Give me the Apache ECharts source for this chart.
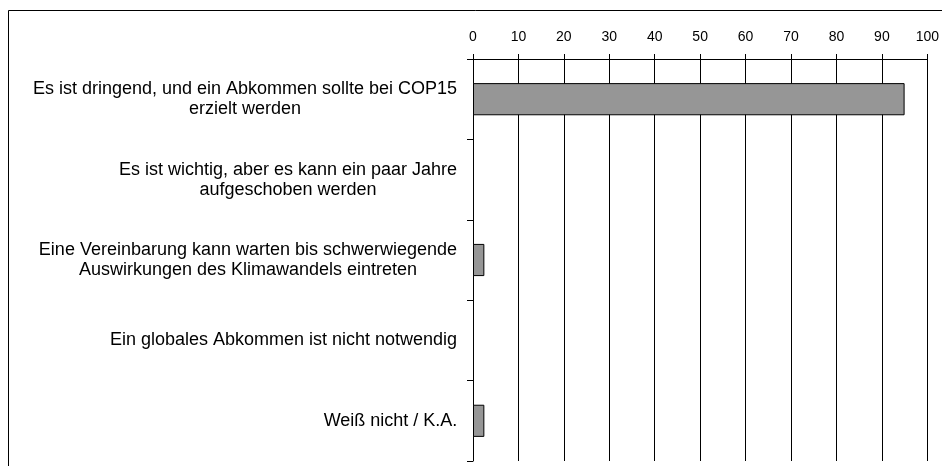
<!DOCTYPE html>
<html>
<head>
<meta charset="utf-8">
<script src="https://cdn.jsdelivr.net/npm/echarts@6/dist/echarts.min.js"></script>
<style>
  html, body { margin: 0; padding: 0; background: #fff; }
  #chart { width: 942px; height: 466px; }
</style>
</head>
<body>
<div id="chart"></div>
<script>
var categories = [
  'Es ist dringend, und ein Abkommen sollte bei COP15\nerzielt werden',
  'Es ist wichtig, aber es kann ein paar Jahre\naufgeschoben werden',
  'Eine Vereinbarung kann warten bis schwerwiegende\nAuswirkungen des Klimawandels eintreten',
  'Ein globales Abkommen ist nicht notwendig',
  'Weiß nicht / K.A.'
];
var values = [95, 0, 2.5, 0, 2.5];
var xTicks = [0, 100, 10];

var labelFont = 'Liberation Sans, Arial, sans-serif';
var labelSize = 18;

// width of the widest line of each label, so the lines can be centred in their block
var ctx = document.createElement('canvas').getContext('2d');
ctx.font = labelSize + 'px ' + labelFont;
var rich = {};
categories.forEach(function (c, i) {
  var w = 0;
  c.split('\n').forEach(function (l) { w = Math.max(w, ctx.measureText(l).width); });
  rich['c' + i] = {
    width: Math.ceil(w) + 1, align: 'center', fontSize: labelSize,
    fontFamily: labelFont, color: '#000', lineHeight: 20
  };
});

var myChart = echarts.init(document.getElementById('chart'));
var option = {
  animation: false,
  backgroundColor: '#fff',
  graphic: [{
    type: 'rect',
    shape: { x: 8.5, y: 10.5, width: 1000, height: 1000 },
    style: { fill: 'none', stroke: '#000', lineWidth: 1 }
  }],
  grid: { left: 473, right: 11, top: 59, bottom: 5 },
  xAxis: {
    type: 'value',
    position: 'top',
    min: xTicks[0],
    max: xTicks[1],
    interval: xTicks[2],
    axisLine: { show: true, lineStyle: { color: '#000', width: 1 } },
    axisTick: { show: true, length: 5, lineStyle: { color: '#000' } },
    axisLabel: { margin: 15, color: '#000', fontSize: 14, fontFamily: labelFont },
    splitLine: { show: true, lineStyle: { color: '#000', width: 1 } }
  },
  yAxis: {
    type: 'category',
    inverse: true,
    data: categories,
    axisLine: { show: true, lineStyle: { color: '#000', width: 1 } },
    axisTick: { show: true, length: 6, lineStyle: { color: '#000' } },
    axisLabel: {
      margin: 15,
      align: 'right',
      formatter: function (v, i) {
        return v.split('\n').map(function (l) { return '{c' + i + '|' + l + '}'; }).join('\n');
      },
      rich: rich
    }
  },
  series: [{
    type: 'bar',
    // zero answers draw no bar at all
    data: values.map(function (v) { return v === 0 ? '-' : v; }),
    barCategoryGap: '60%',
    itemStyle: { color: '#969696', borderColor: '#000', borderWidth: 1 }
  }]
};
myChart.setOption(option);
</script>
</body>
</html>
